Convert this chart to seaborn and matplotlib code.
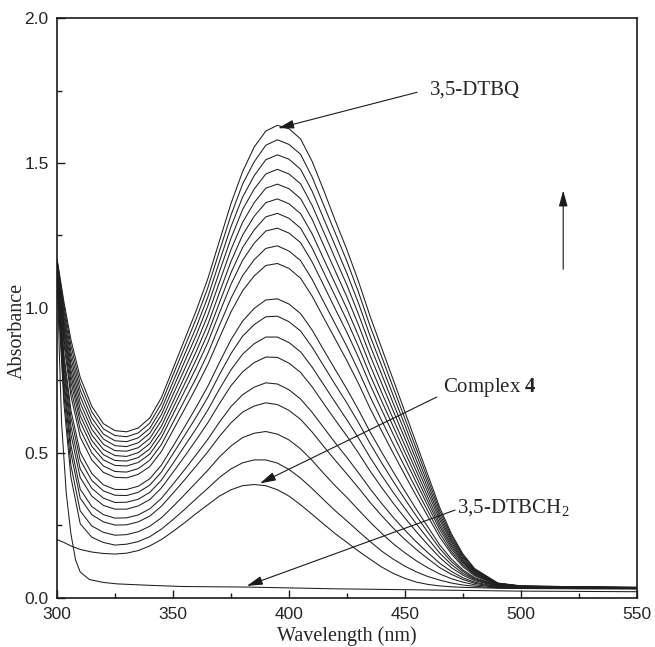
import pandas as pd
import matplotlib
matplotlib.use("Agg")
import matplotlib.pyplot as plt
import seaborn as sns

# UV-vis spectra: oxidation of 3,5-DTBCH2 to 3,5-DTBQ by complex 4
wavelength = [300, 303, 306, 310, 315, 320, 325, 330, 335, 340, 345, 350, 355, 360,
              365, 370, 375, 380, 385, 390, 395, 400, 405, 410, 415, 420, 425, 430,
              435, 440, 445, 450, 455, 460, 465, 470, 475, 480, 490, 500, 525, 550]

dtbq = [1.170, 1.020, 0.890, 0.760, 0.660, 0.600, 0.576, 0.572, 0.585, 0.620, 0.690, 0.790, 0.890, 0.990,
        1.100, 1.230, 1.360, 1.470, 1.555, 1.610, 1.630, 1.618, 1.583, 1.505, 1.405, 1.300, 1.200, 1.090,
        0.970, 0.860, 0.750, 0.640, 0.530, 0.420, 0.310, 0.220, 0.150, 0.100, 0.050, 0.040, 0.037, 0.035]
scan_02 = [1.167, 1.005, 0.870, 0.738, 0.641, 0.582, 0.559, 0.555, 0.568, 0.602, 0.670, 0.768, 0.865, 0.962,
           1.069, 1.195, 1.320, 1.427, 1.504, 1.561, 1.580, 1.564, 1.530, 1.451, 1.354, 1.257, 1.160, 1.053,
           0.936, 0.830, 0.723, 0.617, 0.511, 0.405, 0.299, 0.213, 0.145, 0.097, 0.049, 0.040, 0.037, 0.035]
scan_03 = [1.164, 0.989, 0.848, 0.716, 0.620, 0.564, 0.541, 0.538, 0.551, 0.584, 0.650, 0.744, 0.839, 0.933,
           1.037, 1.159, 1.280, 1.382, 1.456, 1.511, 1.528, 1.513, 1.478, 1.402, 1.307, 1.213, 1.118, 1.015,
           0.902, 0.799, 0.696, 0.594, 0.491, 0.390, 0.288, 0.205, 0.141, 0.095, 0.049, 0.039, 0.036, 0.035]
scan_04 = [1.162, 0.974, 0.828, 0.694, 0.601, 0.547, 0.524, 0.521, 0.534, 0.567, 0.631, 0.722, 0.814, 0.905,
           1.006, 1.124, 1.240, 1.339, 1.410, 1.462, 1.478, 1.462, 1.428, 1.353, 1.261, 1.169, 1.078, 0.977,
           0.869, 0.769, 0.669, 0.571, 0.472, 0.375, 0.277, 0.198, 0.136, 0.092, 0.048, 0.039, 0.036, 0.034]
scan_05 = [1.159, 0.958, 0.807, 0.672, 0.581, 0.529, 0.507, 0.505, 0.517, 0.549, 0.611, 0.700, 0.788, 0.877,
           0.974, 1.088, 1.201, 1.295, 1.363, 1.413, 1.427, 1.411, 1.377, 1.305, 1.215, 1.126, 1.037, 0.940,
           0.835, 0.738, 0.643, 0.548, 0.453, 0.360, 0.267, 0.191, 0.131, 0.089, 0.047, 0.039, 0.036, 0.034]
scan_06 = [1.156, 0.943, 0.786, 0.650, 0.561, 0.511, 0.490, 0.487, 0.500, 0.531, 0.591, 0.676, 0.762, 0.849,
           0.942, 1.052, 1.160, 1.251, 1.316, 1.363, 1.376, 1.359, 1.325, 1.255, 1.168, 1.082, 0.996, 0.902,
           0.801, 0.707, 0.615, 0.524, 0.434, 0.344, 0.255, 0.183, 0.127, 0.087, 0.046, 0.038, 0.036, 0.034]
scan_07 = [1.153, 0.928, 0.766, 0.628, 0.542, 0.493, 0.473, 0.471, 0.483, 0.513, 0.571, 0.654, 0.737, 0.821,
           0.911, 1.017, 1.121, 1.208, 1.269, 1.314, 1.326, 1.309, 1.275, 1.206, 1.122, 1.039, 0.956, 0.865,
           0.767, 0.677, 0.589, 0.501, 0.415, 0.329, 0.245, 0.176, 0.122, 0.084, 0.046, 0.038, 0.035, 0.034]
scan_08 = [1.150, 0.913, 0.745, 0.606, 0.522, 0.475, 0.456, 0.454, 0.466, 0.495, 0.552, 0.632, 0.712, 0.793,
           0.880, 0.982, 1.081, 1.164, 1.223, 1.265, 1.275, 1.258, 1.225, 1.158, 1.077, 0.995, 0.915, 0.828,
           0.734, 0.647, 0.562, 0.478, 0.395, 0.314, 0.234, 0.168, 0.118, 0.081, 0.045, 0.037, 0.035, 0.034]
scan_09 = [1.147, 0.894, 0.720, 0.580, 0.499, 0.454, 0.435, 0.433, 0.445, 0.474, 0.528, 0.604, 0.681, 0.758,
           0.842, 0.939, 1.033, 1.111, 1.166, 1.205, 1.214, 1.196, 1.163, 1.098, 1.020, 0.943, 0.866, 0.782,
           0.693, 0.610, 0.529, 0.450, 0.372, 0.296, 0.221, 0.159, 0.112, 0.078, 0.044, 0.037, 0.035, 0.033]
scan_10 = [1.143, 0.876, 0.696, 0.554, 0.475, 0.432, 0.415, 0.413, 0.425, 0.452, 0.504, 0.577, 0.650, 0.725,
           0.804, 0.896, 0.986, 1.059, 1.110, 1.146, 1.153, 1.136, 1.102, 1.040, 0.965, 0.891, 0.817, 0.738,
           0.652, 0.574, 0.497, 0.422, 0.349, 0.278, 0.208, 0.151, 0.106, 0.075, 0.043, 0.037, 0.034, 0.033]
scan_11 = [1.136, 0.839, 0.646, 0.501, 0.428, 0.389, 0.373, 0.373, 0.384, 0.410, 0.457, 0.522, 0.589, 0.657,
           0.729, 0.811, 0.890, 0.954, 0.998, 1.027, 1.031, 1.013, 0.980, 0.923, 0.854, 0.786, 0.719, 0.647,
           0.571, 0.501, 0.433, 0.367, 0.303, 0.242, 0.181, 0.133, 0.095, 0.069, 0.041, 0.036, 0.034, 0.033]
scan_12 = [1.134, 0.821, 0.622, 0.475, 0.404, 0.368, 0.353, 0.352, 0.363, 0.388, 0.433, 0.496, 0.559, 0.623,
           0.691, 0.769, 0.842, 0.902, 0.942, 0.969, 0.971, 0.952, 0.920, 0.864, 0.799, 0.734, 0.671, 0.603,
           0.531, 0.464, 0.400, 0.339, 0.280, 0.224, 0.169, 0.124, 0.090, 0.065, 0.041, 0.035, 0.033, 0.032]
scan_13 = [1.129, 0.799, 0.592, 0.444, 0.377, 0.343, 0.328, 0.329, 0.339, 0.363, 0.405, 0.463, 0.523, 0.583,
           0.647, 0.719, 0.786, 0.840, 0.876, 0.899, 0.899, 0.880, 0.848, 0.795, 0.734, 0.673, 0.613, 0.550,
           0.483, 0.421, 0.362, 0.307, 0.253, 0.202, 0.153, 0.114, 0.083, 0.062, 0.040, 0.035, 0.033, 0.032]
scan_14 = [1.125, 0.778, 0.563, 0.414, 0.350, 0.318, 0.305, 0.305, 0.316, 0.338, 0.378, 0.432, 0.487, 0.544,
           0.603, 0.669, 0.731, 0.779, 0.811, 0.830, 0.829, 0.809, 0.777, 0.727, 0.669, 0.612, 0.557, 0.498,
           0.436, 0.379, 0.325, 0.274, 0.226, 0.181, 0.138, 0.103, 0.077, 0.058, 0.039, 0.034, 0.033, 0.032]
scan_15 = [1.120, 0.751, 0.526, 0.374, 0.314, 0.286, 0.274, 0.275, 0.285, 0.306, 0.342, 0.391, 0.441, 0.493,
           0.546, 0.605, 0.659, 0.700, 0.726, 0.741, 0.737, 0.717, 0.685, 0.639, 0.586, 0.533, 0.483, 0.430,
           0.375, 0.324, 0.276, 0.232, 0.191, 0.154, 0.118, 0.090, 0.068, 0.053, 0.037, 0.034, 0.032, 0.031]
scan_16 = [1.116, 0.729, 0.498, 0.343, 0.286, 0.261, 0.250, 0.251, 0.261, 0.281, 0.315, 0.360, 0.406, 0.454,
           0.503, 0.556, 0.603, 0.640, 0.661, 0.672, 0.666, 0.646, 0.615, 0.571, 0.521, 0.473, 0.426, 0.378,
           0.328, 0.282, 0.239, 0.200, 0.165, 0.133, 0.103, 0.080, 0.062, 0.049, 0.036, 0.033, 0.032, 0.031]
scan_17 = [1.110, 0.698, 0.456, 0.299, 0.247, 0.225, 0.215, 0.217, 0.227, 0.246, 0.275, 0.314, 0.355, 0.397,
           0.439, 0.485, 0.523, 0.552, 0.567, 0.573, 0.564, 0.544, 0.513, 0.473, 0.428, 0.385, 0.345, 0.302,
           0.260, 0.221, 0.185, 0.154, 0.126, 0.102, 0.081, 0.065, 0.053, 0.044, 0.035, 0.032, 0.031, 0.031]
scan_18 = [1.105, 0.668, 0.415, 0.255, 0.208, 0.190, 0.181, 0.184, 0.193, 0.210, 0.236, 0.269, 0.304, 0.341,
           0.377, 0.414, 0.444, 0.465, 0.475, 0.475, 0.464, 0.442, 0.412, 0.376, 0.337, 0.299, 0.264, 0.228,
           0.193, 0.160, 0.132, 0.108, 0.088, 0.072, 0.060, 0.050, 0.043, 0.039, 0.033, 0.032, 0.031, 0.030]
complex_4 = [0.200, 0.190, 0.178, 0.166, 0.157, 0.152, 0.150, 0.153, 0.162, 0.178, 0.200, 0.228, 0.258, 0.290,
             0.320, 0.350, 0.372, 0.386, 0.390, 0.386, 0.372, 0.350, 0.320, 0.287, 0.253, 0.220, 0.190, 0.160,
             0.132, 0.105, 0.083, 0.066, 0.053, 0.045, 0.040, 0.037, 0.035, 0.034, 0.032, 0.031, 0.030, 0.030]

dtbch2_wavelength = [300, 301, 302, 304, 306, 308, 310, 314, 320, 326, 340, 354, 382, 420, 450, 500, 550]
dtbch2 = [1.150, 0.850, 0.600, 0.360, 0.220, 0.130, 0.088, 0.062, 0.052, 0.047, 0.042, 0.038, 0.036,
          0.030, 0.027, 0.022, 0.020]

scans = [dtbq, scan_02, scan_03, scan_04, scan_05, scan_06, scan_07, scan_08, scan_09, scan_10,
         scan_11, scan_12, scan_13, scan_14, scan_15, scan_16, scan_17, scan_18, complex_4]

frames = []
for i, s in enumerate(scans):
    frames.append(pd.DataFrame({"wavelength": wavelength, "absorbance": s, "scan": i}))
frames.append(pd.DataFrame({"wavelength": dtbch2_wavelength, "absorbance": dtbch2, "scan": len(scans)}))
df = pd.concat(frames, ignore_index=True)

sns.set_theme(style="ticks")
plt.rcParams["mathtext.fontset"] = "custom"
plt.rcParams["mathtext.rm"] = "Liberation Serif"
plt.rcParams["mathtext.bf"] = "Liberation Serif:bold"

fig = plt.figure(figsize=(6.55, 6.47), dpi=100)
ax = fig.add_axes([0.087, 0.0765, 0.8855, 0.8955])

sns.lineplot(data=df, x="wavelength", y="absorbance", units="scan", estimator=None,
             color="#1e1e1e", lw=0.75, ax=ax)

ax.set_xlim(300, 550)
ax.set_ylim(0, 2.0)
ax.set_xticks([300, 350, 400, 450, 500, 550])
ax.set_xticks([325, 375, 425, 475, 525], minor=True)
ax.set_yticks([0.0, 0.5, 1.0, 1.5, 2.0])
ax.set_yticks([0.25, 0.75, 1.25, 1.75], minor=True)
ax.tick_params(which="both", direction="in", top=False, right=False, width=1.0, color="k")
ax.tick_params(which="major", length=6, labelsize=12.5)
ax.tick_params(which="minor", length=3.5)
ax.tick_params(axis="x", which="major", pad=7)
ax.tick_params(axis="y", which="major", pad=6)
for lab in ax.get_xticklabels() + ax.get_yticklabels():
    lab.set_fontfamily("Liberation Sans")
for sp in ax.spines.values():
    sp.set_linewidth(1.2)
    sp.set_color("k")

serif = "Liberation Serif"
ax.set_xlabel("Wavelength (nm)", fontsize=14.5, family=serif, va="bottom")
ax.xaxis.set_label_coords(0.5, -0.0845)
ax.set_ylabel("Absorbance", fontsize=14.5, family=serif)
ax.yaxis.set_label_coords(-0.052, 0.46)

arrow = dict(arrowstyle="-|>,head_length=0.8,head_width=0.22", color="k", lw=0.8,
             shrinkA=0, shrinkB=0, mutation_scale=12)
ax.annotate("", xy=(395.3, 1.62), xytext=(455.2, 1.744), arrowprops=arrow)
ax.text(460.8, 1.75, "3,5-DTBQ", fontsize=15, family=serif, va="center", ha="left")

ax.annotate("", xy=(387.5, 0.394), xytext=(463.7, 0.692), arrowprops=arrow)
ax.text(466.4, 0.724, r"Complex $\mathbf{4}$", fontsize=15, family=serif, va="center", ha="left")

ax.annotate("", xy=(381.8, 0.040), xytext=(471.6, 0.302), arrowprops=arrow)
ax.text(472.3, 0.309, r"3,5-DTBCH$_2$", fontsize=15, family=serif, va="center", ha="left")

ax.annotate("", xy=(518.2, 1.405), xytext=(518.2, 1.133), arrowprops=arrow)

fig.savefig("out.png", dpi=100)
